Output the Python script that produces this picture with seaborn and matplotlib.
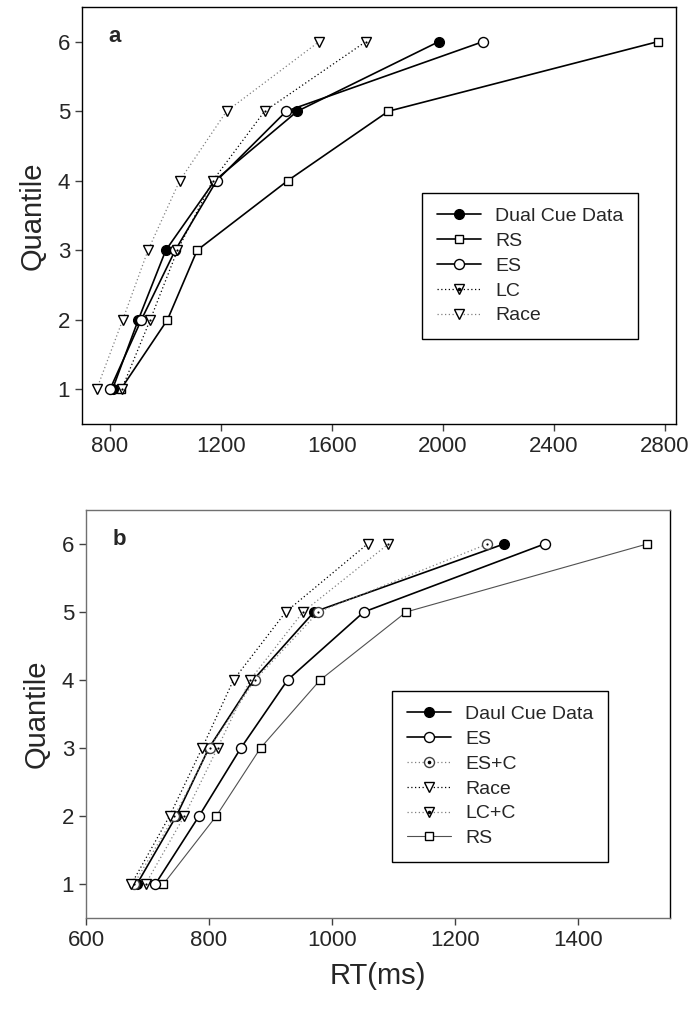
import numpy as np
import pandas as pd
import matplotlib
matplotlib.use("Agg")
import matplotlib.pyplot as plt
import seaborn as sns
from matplotlib.lines import Line2D
from matplotlib.legend_handler import HandlerTuple

# quantile levels (y axis)
quantiles = [1, 2, 3, 4, 5, 6]

# panel a: RT (ms) at each quantile
a_dual = [810, 903, 1002, 1178, 1476, 1985]
a_rs = [840, 1008, 1115, 1441, 1804, 2774]
a_es = [801, 914, 1036, 1185, 1436, 2144]
a_lc = [843, 946, 1044, 1171, 1358, 1722]
a_race = [753, 847, 938, 1052, 1221, 1554]

# panel b: RT (ms) at each quantile
b_dual = [683, 747, 800, 872, 971, 1280]
b_es = [713, 784, 852, 928, 1052, 1346]
b_esc = [678, 744, 801, 875, 978, 1253]
b_race = [674, 736, 789, 840, 925, 1058]
b_lcc = [697, 760, 814, 867, 953, 1092]
b_rs = [726, 812, 884, 981, 1121, 1513]

a_ticks = [800, 1200, 1600, 2000, 2400, 2800]
b_ticks = [600, 800, 1000, 1200, 1400]

sns.set_style("ticks")
plt.rcParams['font.family'] = ['Liberation Sans', 'DejaVu Sans']

DOT = (0, (1, 2))
GRAY = '#808080'


def series(ax, xs, color, marker, ms, face, ls, lw, edge='k', dot=False):
    """one quantile curve; optional small dot inside the marker"""
    df = pd.DataFrame({'rt': xs, 'q': quantiles})
    sns.lineplot(data=df, x='rt', y='q', ax=ax, sort=False, estimator=None,
                 color=color, linestyle=ls, lw=lw, marker=marker, markersize=ms,
                 markerfacecolor=face, markeredgecolor=edge, markeredgewidth=1.0,
                 legend=False)
    if dot:
        sns.scatterplot(data=df, x='rt', y='q', ax=ax, marker='o', s=2.5,
                        color='k', linewidth=0, legend=False, zorder=5)


def handle(color, marker, ms, face, ls, lw, edge='k', dot=False):
    h = Line2D([], [], color=color, linestyle=ls, lw=lw, marker=marker,
               markersize=ms, markerfacecolor=face, markeredgecolor=edge,
               markeredgewidth=1.0)
    if dot:
        d = Line2D([], [], linestyle='none', marker='o', markersize=1.6,
                   color='k')
        return (h, d)
    return h


def add_legend(ax, hs, labs, left, top):
    leg = ax.legend(hs, labs, loc='upper left',
                    bbox_to_anchor=(left / 690, 1 - top / 1009),
                    bbox_transform=fig.transFigure, fontsize=14,
                    handler_map={tuple: HandlerTuple(ndivide=1)},
                    frameon=True, fancybox=False, edgecolor='k', framealpha=1,
                    handlelength=2.3, labelspacing=0.37, borderpad=0.75,
                    handletextpad=0.7, borderaxespad=0)
    leg.get_frame().set_linewidth(1.0)
    return leg


fig = plt.figure(figsize=(6.9, 10.09), dpi=100)
ax_a = fig.add_axes([0.1188, 0.5798, 0.8609, 0.4133])
ax_b = fig.add_axes([0.1246, 0.0902, 0.8464, 0.4044])

# ---- panel a ----
series(ax_a, a_race, GRAY, 'v', 6.5, 'white', DOT, 0.9)
series(ax_a, a_rs, 'k', 's', 6.0, 'white', '-', 1.2)
series(ax_a, a_dual, 'k', 'o', 7.0, 'k', '-', 1.2)
series(ax_a, a_es, 'k', 'o', 7.2, 'white', '-', 1.2)
series(ax_a, a_lc, 'k', 'v', 6.5, 'white', DOT, 0.9, dot=True)

ax_a.set_xlim(700, 2840)
ax_a.set_ylim(0.5, 6.5)
ax_a.set_xticks(a_ticks)
ax_a.set_yticks(quantiles)
ax_a.set_xlabel('')
ax_a.set_ylabel('Quantile', fontsize=21, labelpad=8)
ax_a.text(0.045, 0.915, 'a', transform=ax_a.transAxes, fontsize=16,
          fontweight='bold')

hs_a = [handle('k', 'o', 7.0, 'k', '-', 1.2),
        handle('k', 's', 6.0, 'white', '-', 1.2),
        handle('k', 'o', 7.2, 'white', '-', 1.2),
        handle('k', 'v', 6.5, 'white', DOT, 0.9, dot=True),
        handle(GRAY, 'v', 6.5, 'white', DOT, 0.9)]
labs_a = ['Dual Cue Data', 'RS', 'ES', 'LC', 'Race']
add_legend(ax_a, hs_a, labs_a, 422, 193)

for sp in ax_a.spines.values():
    sp.set_color('k')
    sp.set_linewidth(1.0)

# ---- panel b ----
series(ax_b, b_rs, '#505050', 's', 6.0, 'white', '-', 0.8)
series(ax_b, b_es, 'k', 'o', 7.2, 'white', '-', 1.2)
series(ax_b, b_dual, 'k', 'o', 7.0, 'k', '-', 1.2)
series(ax_b, b_esc, GRAY, 'o', 7.2, 'white', DOT, 0.9, edge='#404040', dot=True)
series(ax_b, b_race, 'k', 'v', 6.5, 'white', DOT, 0.9)
series(ax_b, b_lcc, GRAY, 'v', 6.5, 'white', DOT, 0.9, dot=True)

ax_b.set_xlim(600, 1550)
ax_b.set_ylim(0.5, 6.5)
ax_b.set_xticks(b_ticks)
ax_b.set_yticks(quantiles)
ax_b.set_xlabel('RT(ms)', fontsize=21, labelpad=8)
ax_b.set_ylabel('Quantile', fontsize=21, labelpad=8)
ax_b.text(0.045, 0.915, 'b', transform=ax_b.transAxes, fontsize=16,
          fontweight='bold')

hs_b = [handle('k', 'o', 7.0, 'k', '-', 1.2),
        handle('k', 'o', 7.2, 'white', '-', 1.2),
        handle(GRAY, 'o', 7.2, 'white', DOT, 0.9, edge='#404040', dot=True),
        handle('k', 'v', 6.5, 'white', DOT, 0.9),
        handle(GRAY, 'v', 6.5, 'white', DOT, 0.9, dot=True),
        handle('#505050', 's', 6.0, 'white', '-', 0.8)]
labs_b = ['Daul Cue Data', 'ES', 'ES+C', 'Race', 'LC+C', 'RS']
add_legend(ax_b, hs_b, labs_b, 392, 691)

for side in ['left', 'bottom', 'top']:
    ax_b.spines[side].set_color('#707070')
ax_b.spines['right'].set_color('k')
for sp in ax_b.spines.values():
    sp.set_linewidth(1.0)

for ax in (ax_a, ax_b):
    ax.tick_params(direction='out', length=5, width=1.0, labelsize=16,
                   color='#404040')

fig.savefig('out.png', dpi=100)
